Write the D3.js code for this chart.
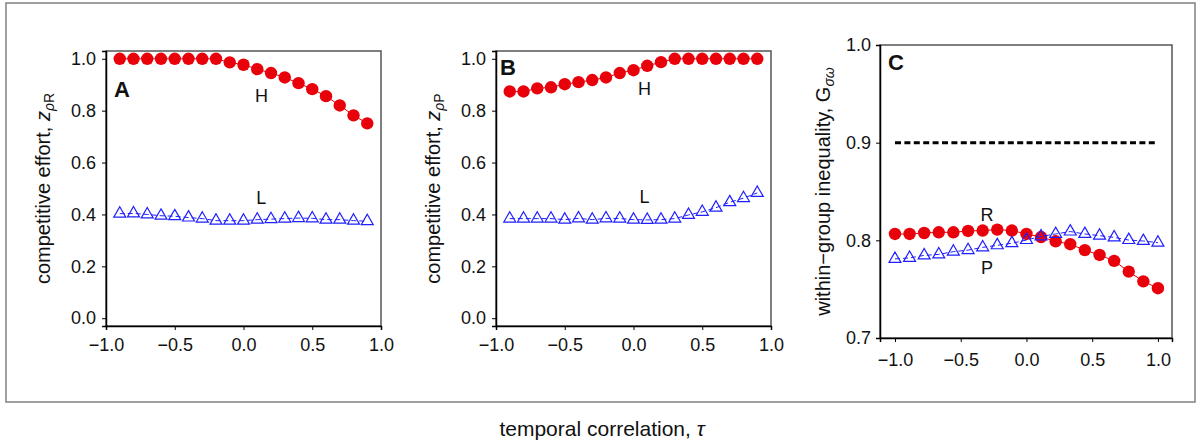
<!DOCTYPE html>
<meta charset="utf-8">
<style>
  body { margin: 0; background: #fff; }
  svg text { font-family: "Liberation Sans", Arial, sans-serif; fill: #111; }
  .tick text { font-size: 18px; }
  .tick line, .domain { stroke: #000; }
  .lab { font-size: 20px; }
  .panel-letter { font-size: 22px; font-weight: bold; }
</style>
<body>
<script src="https://d3js.org/d3.v7.min.js"></script>
<script>

// temporal correlation values (x) for panels A and B
var tauAB = [-0.9, -0.8, -0.7, -0.6, -0.5, -0.4, -0.3, -0.2, -0.1, 0, 0.1, 0.2, 0.3, 0.4, 0.5, 0.6, 0.7, 0.8, 0.9];
// panel C x values
var tauC = [-1, -0.889, -0.778, -0.667, -0.556, -0.444, -0.333, -0.222, -0.111, 0, 0.111, 0.222, 0.333, 0.444, 0.556, 0.667, 0.778, 0.889, 1];

// A: competitive effort z_rhoR
var aH = [1, 1, 1, 1, 1, 1, 1, 1, 0.986, 0.977, 0.960, 0.945, 0.928, 0.906, 0.883, 0.856, 0.820, 0.782, 0.751];
var aL = [0.403, 0.404, 0.400, 0.395, 0.393, 0.388, 0.384, 0.376, 0.376, 0.376, 0.380, 0.382, 0.384, 0.386, 0.385, 0.380, 0.380, 0.376, 0.374];
// B: competitive effort z_rhoP
var bH = [0.874, 0.874, 0.886, 0.890, 0.902, 0.910, 0.918, 0.928, 0.945, 0.956, 0.973, 0.987, 1, 1, 1, 1, 1, 1, 1];
var bL = [0.384, 0.384, 0.384, 0.384, 0.380, 0.385, 0.380, 0.385, 0.384, 0.380, 0.379, 0.380, 0.384, 0.398, 0.410, 0.426, 0.447, 0.463, 0.483];
// C: within-group inequality
var cR = [0.8065, 0.8065, 0.8075, 0.8082, 0.8082, 0.8096, 0.810, 0.811, 0.810, 0.8065, 0.8034, 0.799, 0.796, 0.790, 0.785, 0.779, 0.768, 0.758, 0.751];
var cP = [0.781, 0.782, 0.7846, 0.7856, 0.7884, 0.790, 0.7928, 0.7949, 0.797, 0.8003, 0.804, 0.8065, 0.809, 0.8065, 0.8048, 0.803, 0.8003, 0.7993, 0.7976];
var cRef = 0.9;

var xTicks = [-1, -0.5, 0, 0.5, 1];
var yTicksAB = [0, 0.2, 0.4, 0.6, 0.8, 1];
var yTicksC = [0.7, 0.8, 0.9, 1];

var red = "#e8000b", blue = "#1f1fff";

var svg = d3.select("body").append("svg")
    .attr("width", 1197)
    .attr("height", 448);

// outer frame
svg.append("rect")
    .attr("x", 6).attr("y", 3)
    .attr("width", 1189).attr("height", 399)
    .attr("fill", "none")
    .attr("stroke", "#808080")
    .attr("stroke-width", 1.5);

var fmt = d3.format(".1f");

function panel(opt) {
  var x = d3.scaleLinear().domain(opt.xdom).range([opt.left, opt.right]);
  var y = d3.scaleLinear().domain(opt.ydom).range([opt.bottom, opt.top]);
  var g = svg.append("g");

  g.append("rect")
      .attr("x", opt.left).attr("y", opt.top)
      .attr("width", opt.right - opt.left).attr("height", opt.bottom - opt.top)
      .attr("fill", "none").attr("stroke", "#555").attr("stroke-width", 1.5);

  g.append("g")
      .attr("transform", "translate(0," + opt.bottom + ")")
      .call(d3.axisBottom(x).tickValues(xTicks).tickFormat(fmt).tickSizeOuter(0).tickSize(4).tickPadding(opt.xpad))
      .call(function(a) { a.select(".domain").attr("stroke-width", 1.5); });

  g.append("g")
      .attr("transform", "translate(" + opt.left + ",0)")
      .call(d3.axisLeft(y).tickValues(opt.yticks).tickFormat(fmt).tickSizeOuter(0).tickSize(4).tickPadding(opt.ypad))
      .call(function(a) { a.select(".domain").attr("stroke-width", 1.5); });

  opt.series.forEach(function(s) {
    var pts = opt.xs.map(function(v, i) { return [v, s.values[i]]; });
    var line = d3.line().x(function(d) { return x(d[0]); }).y(function(d) { return y(d[1]); });
    g.append("path")
        .datum(pts)
        .attr("d", line)
        .attr("fill", "none")
        .attr("stroke", s.color)
        .attr("stroke-width", 1)
        .attr("stroke-dasharray", s.shape === "tri" ? "5,3" : null);
    if (s.shape === "circle") {
      g.selectAll(null).data(pts).enter().append("circle")
          .attr("cx", function(d) { return x(d[0]); })
          .attr("cy", function(d) { return y(d[1]); })
          .attr("r", 6.2)
          .attr("fill", s.color);
    } else {
      g.selectAll(null).data(pts).enter().append("path")
          .attr("d", d3.symbol().type(d3.symbolTriangle).size(62))
          .attr("transform", function(d) { return "translate(" + x(d[0]) + "," + y(d[1]) + ")"; })
          .attr("fill", "none")
          .attr("stroke", s.color)
          .attr("stroke-width", 1.2);
    }
  });

  if (opt.ref !== undefined) {
    g.append("line")
        .attr("x1", x(-1)).attr("x2", x(1))
        .attr("y1", y(opt.ref)).attr("y2", y(opt.ref))
        .attr("stroke", "#000").attr("stroke-width", 3)
        .attr("stroke-dasharray", "6,3.4");
  }

  opt.labels.forEach(function(l) {
    g.append("text")
        .attr("x", x(l.x)).attr("y", y(l.y))
        .attr("dy", "0.36em")
        .attr("text-anchor", "middle")
        .style("font-size", "18px")
        .text(l.t);
  });

  g.append("text")
      .attr("class", "panel-letter")
      .attr("x", opt.left + opt.letter[0]).attr("y", opt.top + opt.letter[1])
      .text(opt.name);

  var yl = g.append("text")
      .attr("class", "lab")
      .attr("text-anchor", "middle")
      .attr("transform", "translate(" + opt.ylabX + "," + ((opt.top + opt.bottom) / 2) + ") rotate(-90)");
  yl.append("tspan").text(opt.ylab[0]);
  yl.append("tspan").text(opt.ylab[1]).style("font-style", "italic");
  yl.append("tspan").text(opt.ylab[2]).attr("dy", "0.3em").style("font-size", "14px").style("font-style", "italic");
  yl.append("tspan").text(opt.ylab[3]).style("font-size", "14px");
}

panel({
  name: "A", left: 106, right: 381, top: 51, bottom: 326,
  xdom: [-1, 1], ydom: [-0.03, 1.03], yticks: yTicksAB, xs: tauAB,
  xpad: 8, ypad: 6, letter: [8, 46],
  series: [{ values: aH, color: red, shape: "circle" }, { values: aL, color: blue, shape: "tri" }],
  labels: [{ t: "H", x: 0.13, y: 0.86 }, { t: "L", x: 0.13, y: 0.465 }],
  ylabX: 50, ylab: ["competitive effort, ", "z", "\u03c1", "R"]
});

panel({
  name: "B", left: 496, right: 771, top: 51, bottom: 326,
  xdom: [-1, 1], ydom: [-0.03, 1.03], yticks: yTicksAB, xs: tauAB,
  xpad: 8, ypad: 6, letter: [4, 24],
  series: [{ values: bH, color: red, shape: "circle" }, { values: bL, color: blue, shape: "tri" }],
  labels: [{ t: "H", x: 0.08, y: 0.885 }, { t: "L", x: 0.08, y: 0.47 }],
  ylabX: 440, ylab: ["competitive effort, ", "z", "\u03c1", "P"]
});

panel({
  name: "C", left: 880, right: 1172, top: 45, bottom: 338,
  xdom: [-1.114, 1.107], ydom: [0.7, 1.0], yticks: yTicksC, xs: tauC,
  xpad: 11, ypad: 5, letter: [8, 25],
  series: [{ values: cR, color: red, shape: "circle" }, { values: cP, color: blue, shape: "tri" }],
  labels: [{ t: "R", x: -0.3, y: 0.826 }, { t: "P", x: -0.3, y: 0.772 }],
  ref: cRef,
  ylabX: 830, ylab: ["within\u2212group inequality, G", "", "\u03c3\u03c9", ""]
});

// shared x label
var xl = svg.append("text")
    .attr("class", "lab")
    .attr("x", 602).attr("y", 436)
    .attr("text-anchor", "middle")
    .style("font-size", "21px");
xl.append("tspan").text("temporal correlation,  ");
xl.append("tspan").text("\u03c4").style("font-style", "italic");

</script>
</body>
</html>
